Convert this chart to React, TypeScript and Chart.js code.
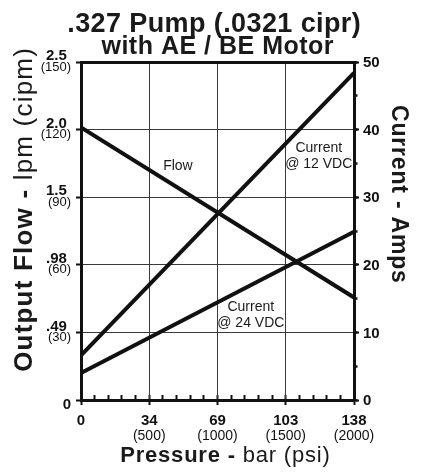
import React, { useEffect, useRef } from 'react';
import { Chart, registerables } from 'chart.js';

Chart.register(...registerables);

// ---- data ----
const pressurePsi = [0, 2000];
const flowCipm = [121, 45.5];
const current12V = [6.6, 48.4];
const current24V = [4.0, 24.9];

// ---- tick labels ----
const barTicks = ['0', '34', '69', '103', '138'];
const psiTicks = ['', '(500)', '(1000)', '(1500)', '(2000)'];
const lpmTicks = ['', '.49', '.98', '1.5', '2.0', '2.5'];
const cipmTicks = ['0', '(30)', '(60)', '(90)', '(120)', '(150)'];

// ---- texts ----
const titleText = '.327 Pump (.0321 cipr)';
const subtitleText = 'with AE / BE Motor';
const leftTitleBold = 'Output Flow - ';
const leftTitleRegular = 'lpm (cipm)';
const rightTitle = 'Current - Amps';
const bottomTitleBold = 'Pressure - ';
const bottomTitleRegular = 'bar (psi)';
const labelTexts = [['Flow'], ['Current', '@ 12 VDC'], ['Current', '@ 24 VDC']];
// label anchors in data units (psi, amps)
const labelPsi = [710, 1742, 1244];
const labelAmps = [34.6, 36.1, 12.5];

const FAMILY = "'Liberation Sans', Arial, Helvetica, sans-serif";
const INK = '#111';
const GRID = '#3a3a3a';

function drawMixed(
  ctx: CanvasRenderingContext2D,
  parts: { text: string; font: string }[],
  x: number,
  y: number,
  rot: number,
  spacing: number
) {
  ctx.save();
  ctx.translate(x, y);
  ctx.rotate(rot);
  (ctx as any).letterSpacing = spacing + 'px';
  ctx.textAlign = 'left';
  ctx.textBaseline = 'middle';
  const widths = parts.map((p) => {
    ctx.font = p.font;
    return ctx.measureText(p.text).width;
  });
  const total = widths.reduce((a, b) => a + b, 0) - spacing;
  let cx = -total / 2;
  parts.forEach((p, i) => {
    ctx.font = p.font;
    ctx.fillText(p.text, cx, 0);
    cx += widths[i];
  });
  ctx.restore();
}

const textPlugin = {
  id: 'textOverlay',
  afterDraw(chart: any) {
    const { ctx, chartArea, scales } = chart;
    ctx.save();
    ctx.fillStyle = '#1a1a1a';
    ctx.font = `14px ${FAMILY}`;
    ctx.textAlign = 'center';
    ctx.textBaseline = 'middle';
    labelTexts.forEach((lines, k) => {
      const cx = scales.x.getPixelForValue(labelPsi[k]);
      const cy = scales.y1.getPixelForValue(labelAmps[k]);
      lines.forEach((line, i) => {
        ctx.fillText(line, cx, cy + (i - (lines.length - 1) / 2) * 16);
      });
    });
    const midY = (chartArea.top + chartArea.bottom) / 2;
    const midX = (chartArea.left + chartArea.right) / 2;
    // chart title + subtitle
    drawMixed(ctx, [{ text: titleText, font: `bold 27px ${FAMILY}` }], midX - 3.5, chartArea.top - 37, 0, 0.4);
    drawMixed(ctx, [{ text: subtitleText, font: `bold 25px ${FAMILY}` }], midX, chartArea.top - 15, 0, 0.5);
    // axis titles
    drawMixed(
      ctx,
      [
        { text: leftTitleBold, font: `bold 26px ${FAMILY}` },
        { text: leftTitleRegular, font: `26px ${FAMILY}` },
      ],
      chartArea.left - 56,
      midY - 21,
      -Math.PI / 2,
      1.2
    );
    drawMixed(
      ctx,
      [{ text: rightTitle, font: `bold 23px ${FAMILY}` }],
      chartArea.right + 44,
      midY - 37,
      Math.PI / 2,
      0.8
    );
    drawMixed(
      ctx,
      [
        { text: bottomTitleBold, font: `bold 22px ${FAMILY}` },
        { text: bottomTitleRegular, font: `22px ${FAMILY}` },
      ],
      midX + 7.5,
      chartArea.bottom + 55.5,
      0,
      0.8
    );
    ctx.restore();
  },
};

export default function App() {
  const ref = useRef<HTMLCanvasElement>(null);

  useEffect(() => {
    if (!ref.current) return;
    const mk = (ys: number[]) => pressurePsi.map((x, i) => ({ x, y: ys[i] }));
    const lineStyle = {
      borderColor: INK,
      borderWidth: 4,
      pointRadius: 0,
      tension: 0,
      fill: false,
      xAxisID: 'x',
    };
    const bold15 = { family: FAMILY, size: 15, weight: 'bold' as const };
    const chart = new Chart(ref.current, {
      type: 'line',
      data: {
        datasets: [
          { ...lineStyle, label: 'Flow', data: mk(flowCipm), yAxisID: 'y' },
          { ...lineStyle, label: 'Current @ 12 VDC', data: mk(current12V), yAxisID: 'y1' },
          { ...lineStyle, label: 'Current @ 24 VDC', data: mk(current24V), yAxisID: 'y1' },
        ],
      },
      options: {
        animation: false,
        responsive: false,
        devicePixelRatio: 1,
        layout: { padding: { top: 62, left: 0, right: 0, bottom: 0 } },
        plugins: {
          legend: { display: false },
          tooltip: { enabled: false },
          title: { display: false },
        },
        scales: {
          xm: {
            type: 'linear',
            position: 'bottom',
            weight: 0,
            min: 0,
            max: 2000,
            afterFit: (s: any) => {
              s.height = 0;
            },
            ticks: { display: false, stepSize: 100, autoSkip: false, maxTicksLimit: 30 },
            grid: { drawOnChartArea: false, tickLength: -5, tickColor: INK, tickWidth: 2 },
            border: { display: false },
          },
          x: {
            type: 'linear',
            position: 'bottom',
            weight: 1,
            min: 0,
            max: 2000,
            afterFit: (s: any) => {
              s.height = 28;
            },
            ticks: {
              stepSize: 500,
              autoSkip: false,
              maxRotation: 0,
              padding: 7,
              color: INK,
              font: bold15,
              callback: (v: any) => barTicks[Math.round(Number(v) / 500)],
            },
            grid: { color: GRID, lineWidth: 1, tickLength: 5, tickColor: INK, tickWidth: 2 },
            border: { color: INK, width: 3 },
          },
          xPsi: {
            type: 'linear',
            position: 'bottom',
            weight: 2,
            min: 0,
            max: 2000,
            afterFit: (s: any) => {
              s.height = 44;
            },
            ticks: {
              stepSize: 500,
              autoSkip: false,
              maxRotation: 0,
              padding: 0,
              color: INK,
              font: { family: FAMILY, size: 14 },
              callback: (v: any) => psiTicks[Math.round(Number(v) / 500)],
            },
            grid: { display: false, drawTicks: false, drawOnChartArea: false },
            border: { display: false },
          },
          y: {
            type: 'linear',
            position: 'left',
            weight: 1,
            min: 0,
            max: 150,
            afterFit: (s: any) => {
              s.width = 81;
            },
            ticks: {
              stepSize: 30,
              autoSkip: false,
              padding: 5,
              labelOffset: 5,
              color: INK,
              crossAlign: 'near',
              font: (c: any) =>
                c.tick && c.tick.value === 0 ? bold15 : { family: FAMILY, size: 13 },
              callback: (v: any) => cipmTicks[Math.round(Number(v) / 30)],
            },
            grid: {
              color: (c: any) => (c.tick && c.tick.value === 150 ? INK : GRID),
              lineWidth: (c: any) => (c.tick && c.tick.value === 150 ? 3 : 1),
              tickLength: 5,
              tickColor: INK,
              tickWidth: 2,
            },
            border: { color: INK, width: 3 },
          },
          yL: {
            type: 'linear',
            position: 'left',
            weight: 0,
            min: 0,
            max: 150,
            afterFit: (s: any) => {
              s.width = 0;
            },
            ticks: {
              stepSize: 30,
              autoSkip: false,
              mirror: true,
              padding: -35,
              labelOffset: -6,
              color: INK,
              crossAlign: 'far',
              font: bold15,
              callback: (v: any) => lpmTicks[Math.round(Number(v) / 30)],
            },
            grid: { display: false, drawTicks: false, drawOnChartArea: false },
            border: { display: false },
          },
          y1m: {
            type: 'linear',
            position: 'right',
            weight: 0,
            min: 0,
            max: 50,
            afterFit: (s: any) => {
              s.width = 0;
            },
            ticks: { display: false, stepSize: 5, autoSkip: false, maxTicksLimit: 30 },
            grid: { drawOnChartArea: false, tickLength: 3.5, tickColor: INK, tickWidth: 2.5 },
            border: { display: false },
          },
          y1: {
            type: 'linear',
            position: 'right',
            weight: 1,
            min: 0,
            max: 50,
            afterFit: (s: any) => {
              s.width = 69;
            },
            ticks: {
              stepSize: 10,
              autoSkip: false,
              padding: 4,
              labelOffset: 1,
              color: INK,
              font: bold15,
            },
            grid: { drawOnChartArea: false, tickLength: 5, tickColor: INK, tickWidth: 2 },
            border: { color: INK, width: 3 },
          },
        },
      } as any,
      plugins: [textPlugin],
    });
    return () => chart.destroy();
  }, []);

  return (
    <div style={{ position: 'absolute', left: 0, top: 0, width: 423, height: 472, background: '#fff' }}>
      <canvas ref={ref} width={423} height={472} style={{ display: 'block', width: 423, height: 472 }} />
    </div>
  );
}
